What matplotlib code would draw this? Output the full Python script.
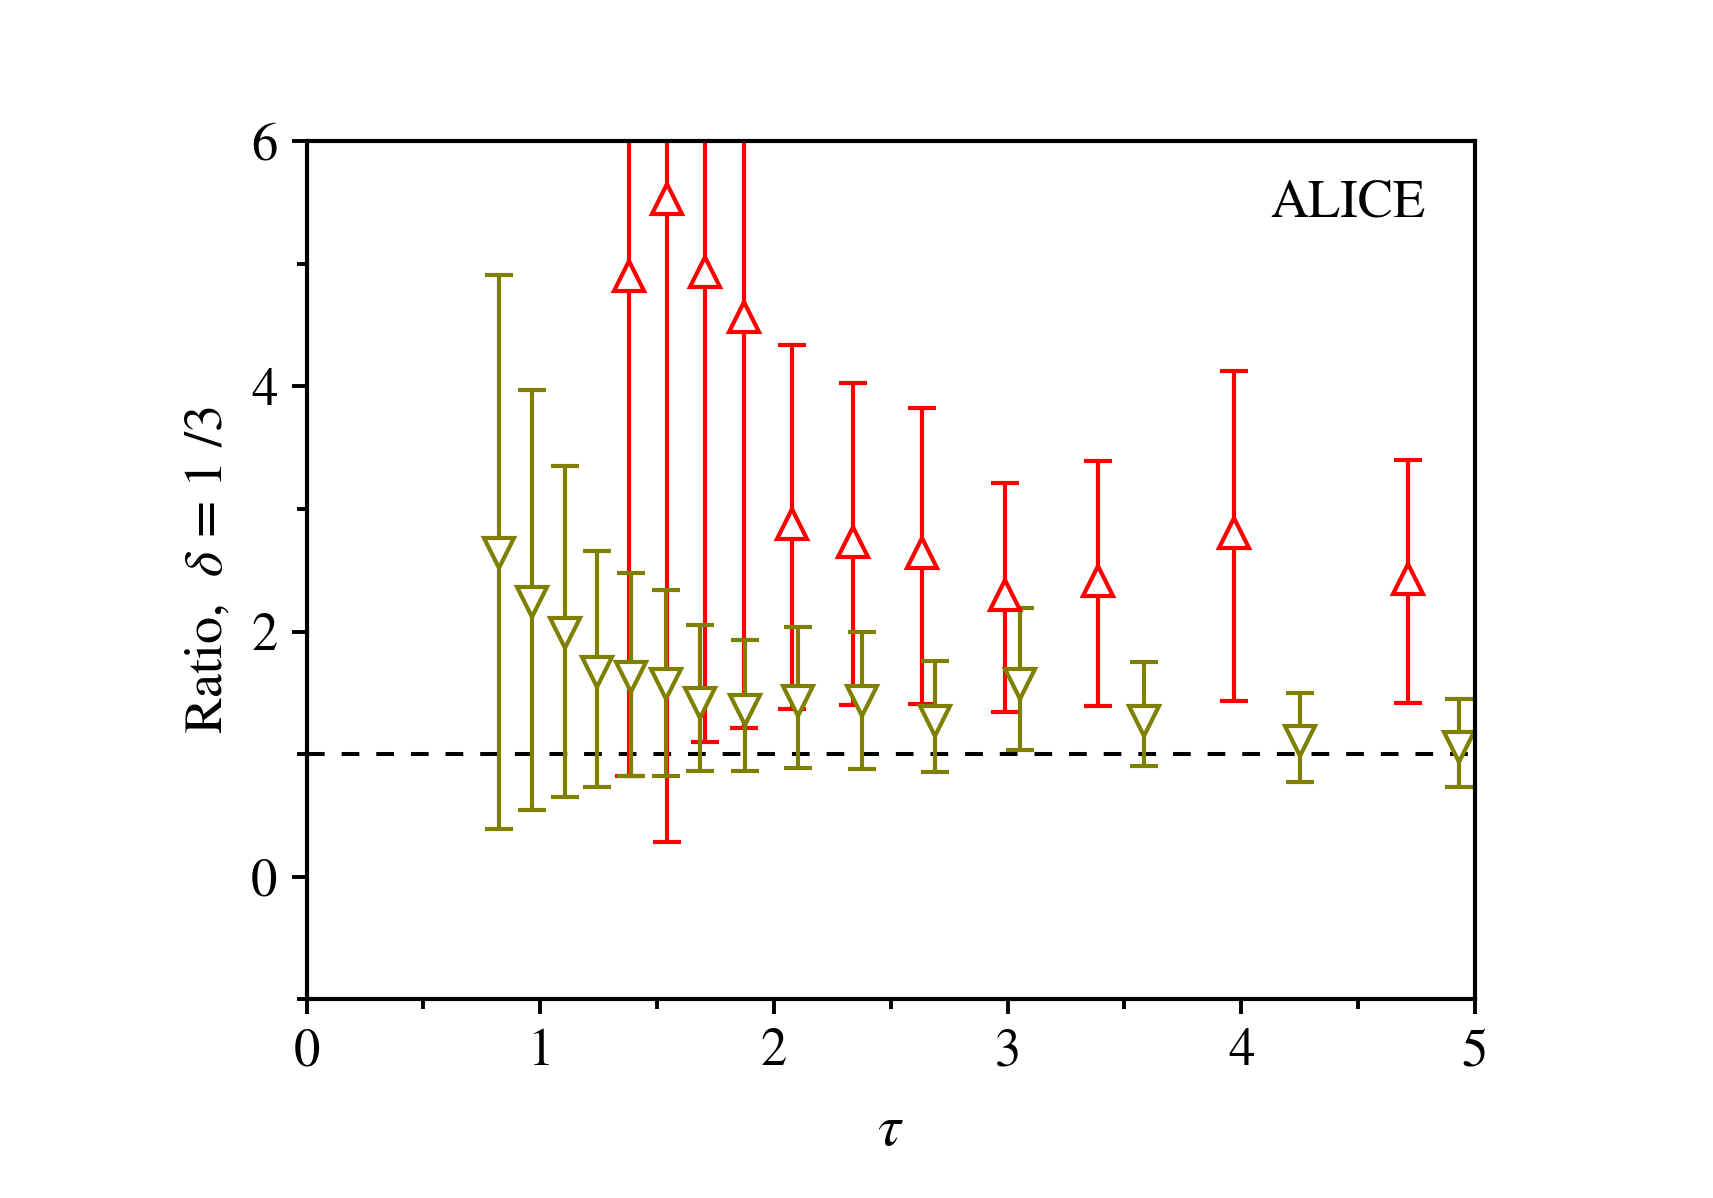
"""
Ratio vs tau for delta = 1/3 (ALICE), two series with asymmetric error bars.
"""

import numpy as np
import matplotlib
matplotlib.use("Agg")
import matplotlib.pyplot as plt
from matplotlib.ticker import MultipleLocator

# red series (up triangles)
tau_red = [1.38, 1.543, 1.707, 1.871, 2.077, 2.339, 2.633, 2.989, 3.386, 3.971, 4.715]
ratio_red = [4.90, 5.53, 4.93, 4.57, 2.88, 2.73, 2.64, 2.30, 2.41, 2.80, 2.43]
upper_red = [8.0, 8.5, 8.0, 7.6, 4.34, 4.03, 3.82, 3.21, 3.39, 4.13, 3.40]
lower_red = [0.82, 0.28, 1.10, 1.21, 1.37, 1.40, 1.41, 1.34, 1.39, 1.43, 1.42]

# olive series (down triangles)
tau_olive = [0.823, 0.963, 1.104, 1.244, 1.389, 1.539, 1.684, 1.876, 2.105, 2.376,
             2.689, 3.054, 3.583, 4.25, 4.93]
ratio_olive = [2.64, 2.24, 1.99, 1.67, 1.63, 1.57, 1.42, 1.36, 1.43, 1.43,
               1.27, 1.57, 1.27, 1.11, 1.06]
upper_olive = [4.91, 3.97, 3.35, 2.66, 2.48, 2.34, 2.05, 1.93, 2.04, 2.00,
               1.76, 2.19, 1.75, 1.50, 1.45]
lower_olive = [0.39, 0.54, 0.65, 0.73, 0.82, 0.82, 0.86, 0.86, 0.89, 0.88,
               0.85, 1.03, 0.90, 0.77, 0.73]

plt.rcParams['font.family'] = ['STIXGeneral', 'Liberation Serif', 'DejaVu Serif']
plt.rcParams['mathtext.fontset'] = 'stix'

fig = plt.figure(figsize=(17.13, 11.98), dpi=100)
ax = fig.add_axes([0.179, 0.166, 0.682, 0.716])


def draw_series(x, y, lo, hi, color, marker):
    y = np.array(y)
    yerr = [y - np.array(lo), np.array(hi) - y]
    ax.errorbar(x, y, yerr=yerr, fmt=marker, color=color, ecolor=color,
                elinewidth=3.0, capsize=10, capthick=3.0,
                markersize=21, markeredgewidth=3.0, markerfacecolor='white',
                markeredgecolor=color)


ax.axhline(1, color='black', lw=2.9, ls=(0, (4.4, 4.2)), zorder=1)
draw_series(tau_red, ratio_red, lower_red, upper_red, '#FF0000', '^')
draw_series(tau_olive, ratio_olive, lower_olive, upper_olive, '#808000', 'v')

ax.set_xlim(0, 5)
ax.set_ylim(-1, 6)
ax.xaxis.set_major_locator(MultipleLocator(1))
ax.xaxis.set_minor_locator(MultipleLocator(0.5))
ax.yaxis.set_major_locator(MultipleLocator(2))
ax.yaxis.set_minor_locator(MultipleLocator(1))
ax.tick_params(which='both', direction='out', width=2.8, top=False, right=False,
               labelsize=38, pad=10)
ax.tick_params(which='major', length=11)
ax.tick_params(which='minor', length=7)
for s in ax.spines.values():
    s.set_linewidth(3.0)

ax.set_xlabel(r'$\tau$', fontsize=42, labelpad=20)
ax.set_ylabel(r'Ratio,  $\delta$ = 1 /3', fontsize=39, labelpad=12)

ax.text(0.958, 0.912, 'ALICE', transform=ax.transAxes, ha='right', va='baseline',
        fontsize=38)

fig.savefig('out.png', dpi=100)
